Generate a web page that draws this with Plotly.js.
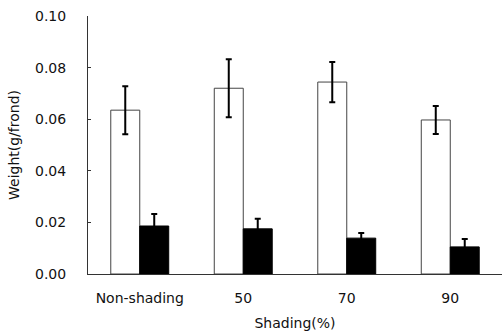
<!DOCTYPE html>
<html><head><meta charset="utf-8">
<script src="https://cdn.plot.ly/plotly-3.0.1.min.js"></script>
<style>html,body{margin:0;padding:0;background:#fff;}</style>
</head><body><div id="chart" style="width:502px;height:333px;"></div>
<script>
const categories = ["Non-shading", "50", "70", "90"];
const whiteValues = [0.0635, 0.072, 0.0744, 0.0597];
const whiteErrors = [0.0093, 0.0112, 0.0078, 0.0054];
const blackValues = [0.0186, 0.0175, 0.0139, 0.0105];
const blackErrors = [0.0047, 0.0039, 0.0020, 0.0031];
const yTickVals = [0, 0.02, 0.04, 0.06, 0.08, 0.10];
const yTickText = ["0.00", "0.02", "0.04", "0.06", "0.08", "0.10"];

const font = {family: "DejaVu Sans, Arial, sans-serif", size: 14, color: "#111"};
const traces = [
  {type: "bar", x: categories, y: whiteValues, name: "white",
   marker: {color: "#ffffff", line: {color: "#444", width: 1}},
   error_y: {type: "data", array: whiteErrors, visible: true, color: "#000", thickness: 2, width: 3}},
  {type: "bar", x: categories, y: blackValues, name: "black",
   marker: {color: "#000000", line: {color: "#000", width: 1}},
   error_y: {type: "data", array: blackErrors, visible: true, color: "#000", thickness: 2, width: 3}}
];
const layout = {
  width: 502, height: 333,
  margin: {l: 88, r: 0, t: 16, b: 59},
  paper_bgcolor: "#fff", plot_bgcolor: "#fff",
  showlegend: false,
  barmode: "group", bargap: 0.44, bargroupgap: 0,
  font: font,
  xaxis: {
    type: "category", range: [-0.5, 3.5],
    showline: true, linecolor: "#333", linewidth: 1,
    ticks: "", showgrid: false, zeroline: false,
    ticklabelstandoff: 11,
    tickfont: font,
    title: {text: "Shading(%)", font: font, standoff: 13}
  },
  yaxis: {
    range: [0, 0.1], tickvals: yTickVals, ticktext: yTickText,
    showline: true, linecolor: "#333", linewidth: 1,
    ticks: "inside", ticklen: 3, tickcolor: "#333",
    showgrid: false, zeroline: false,
    ticklabelstandoff: 18,
    tickfont: font,
    title: {text: "Weight(g/frond)", font: font, standoff: 12}
  }
};
Plotly.newPlot("chart", traces, layout, {displayModeBar: false, staticPlot: true});
</script></body></html>
